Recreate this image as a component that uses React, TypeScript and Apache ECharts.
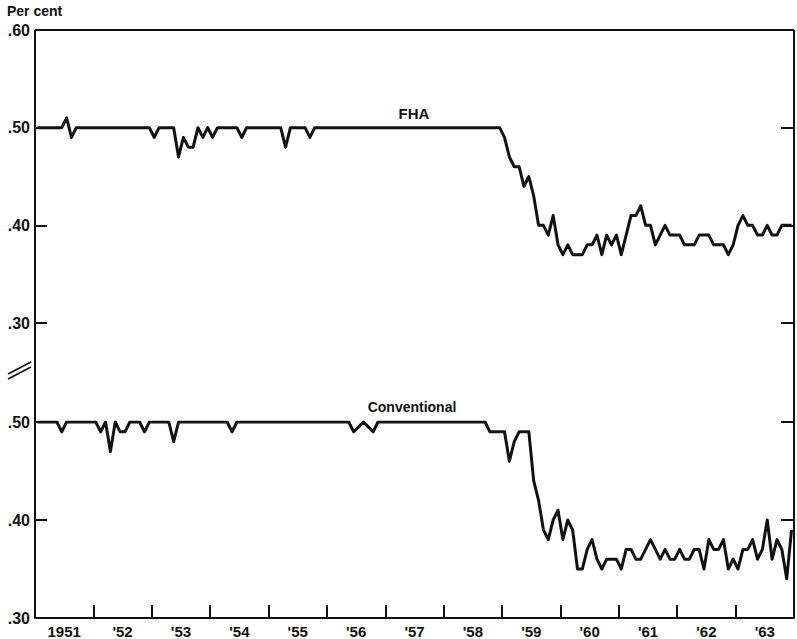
import React, { useEffect, useRef } from "react";
import * as echarts from "echarts";

// Tick labels
const yearLabels = ["1951", "'52", "'53", "'54", "'55", "'56", "'57", "'58", "'59", "'60", "'61", "'62", "'63"];

// Monthly values, Jan 1951 - Dec 1963 (12 per row = one year)
const fha = [
  0.50, 0.50, 0.50, 0.50, 0.50, 0.50, 0.51, 0.49, 0.50, 0.50, 0.50, 0.50,
  0.50, 0.50, 0.50, 0.50, 0.50, 0.50, 0.50, 0.50, 0.50, 0.50, 0.50, 0.50,
  0.49, 0.50, 0.50, 0.50, 0.50, 0.47, 0.49, 0.48, 0.48, 0.50, 0.49, 0.50,
  0.49, 0.50, 0.50, 0.50, 0.50, 0.50, 0.49, 0.50, 0.50, 0.50, 0.50, 0.50,
  0.50, 0.50, 0.50, 0.48, 0.50, 0.50, 0.50, 0.50, 0.49, 0.50, 0.50, 0.50,
  0.50, 0.50, 0.50, 0.50, 0.50, 0.50, 0.50, 0.50, 0.50, 0.50, 0.50, 0.50,
  0.50, 0.50, 0.50, 0.50, 0.50, 0.50, 0.50, 0.50, 0.50, 0.50, 0.50, 0.50,
  0.50, 0.50, 0.50, 0.50, 0.50, 0.50, 0.50, 0.50, 0.50, 0.50, 0.50, 0.50,
  0.49, 0.47, 0.46, 0.46, 0.44, 0.45, 0.43, 0.40, 0.40, 0.39, 0.41, 0.38,
  0.37, 0.38, 0.37, 0.37, 0.37, 0.38, 0.38, 0.39, 0.37, 0.39, 0.38, 0.39,
  0.37, 0.39, 0.41, 0.41, 0.42, 0.40, 0.40, 0.38, 0.39, 0.40, 0.39, 0.39,
  0.39, 0.38, 0.38, 0.38, 0.39, 0.39, 0.39, 0.38, 0.38, 0.38, 0.37, 0.38,
  0.40, 0.41, 0.40, 0.40, 0.39, 0.39, 0.40, 0.39, 0.39, 0.40, 0.40, 0.40,
];

const conventional = [
  0.50, 0.50, 0.50, 0.50, 0.50, 0.49, 0.50, 0.50, 0.50, 0.50, 0.50, 0.50,
  0.50, 0.49, 0.50, 0.47, 0.50, 0.49, 0.49, 0.50, 0.50, 0.50, 0.49, 0.50,
  0.50, 0.50, 0.50, 0.50, 0.48, 0.50, 0.50, 0.50, 0.50, 0.50, 0.50, 0.50,
  0.50, 0.50, 0.50, 0.50, 0.49, 0.50, 0.50, 0.50, 0.50, 0.50, 0.50, 0.50,
  0.50, 0.50, 0.50, 0.50, 0.50, 0.50, 0.50, 0.50, 0.50, 0.50, 0.50, 0.50,
  0.50, 0.50, 0.50, 0.50, 0.50, 0.49, 0.495, 0.50, 0.495, 0.49, 0.50, 0.50,
  0.50, 0.50, 0.50, 0.50, 0.50, 0.50, 0.50, 0.50, 0.50, 0.50, 0.50, 0.50,
  0.50, 0.50, 0.50, 0.50, 0.50, 0.50, 0.50, 0.50, 0.50, 0.49, 0.49, 0.49,
  0.49, 0.46, 0.48, 0.49, 0.49, 0.49, 0.44, 0.42, 0.39, 0.38, 0.40, 0.41,
  0.38, 0.40, 0.39, 0.35, 0.35, 0.37, 0.38, 0.36, 0.35, 0.36, 0.36, 0.36,
  0.35, 0.37, 0.37, 0.36, 0.36, 0.37, 0.38, 0.37, 0.36, 0.37, 0.36, 0.36,
  0.37, 0.36, 0.36, 0.37, 0.37, 0.35, 0.38, 0.37, 0.37, 0.38, 0.35, 0.36,
  0.35, 0.37, 0.37, 0.38, 0.36, 0.37, 0.40, 0.36, 0.38, 0.37, 0.34, 0.39,
];

const FONT = "Liberation Sans, Arial, sans-serif";
const INK = "#111";

// layout
const L = 35;
const R = 794;
const TOP = 30;
const TOP_BOTTOM = 323;
const BOT_TOP = 422;
const BOT = 618;

const fmt = (v: number) => v.toFixed(2).replace(/^0/, "");

export default function App() {
  const ref = useRef<HTMLDivElement>(null);
  useEffect(() => {
    const chart = echarts.init(ref.current!, null, { renderer: "svg" });
    const months = fha.length;
    const toPts = (arr: number[]) => arr.map((v, i) => [i + 0.5, v]);
    const yLeft = (grid: number, min: number, max: number) => ({
      type: "value",
      gridIndex: grid,
      min,
      max,
      interval: 0.1,
      position: "left",
      axisLine: { show: false },
      axisTick: { show: true, inside: true, length: 12, lineStyle: { color: INK, width: 2 } },
      axisLabel: {
        show: true,
        formatter: fmt,
        color: INK,
        fontFamily: FONT,
        fontWeight: "bold",
        fontSize: 16,
        margin: 5,
      },
      splitLine: { show: false },
    });
    const yRight = (grid: number, min: number, max: number) => ({
      type: "value",
      gridIndex: grid,
      min,
      max,
      interval: 0.1,
      position: "right",
      axisLine: { show: false },
      axisTick: { show: true, inside: true, length: 13, lineStyle: { color: INK, width: 2 } },
      axisLabel: { show: false },
      splitLine: { show: false },
    });

    const option: any = {
      animation: false,
      backgroundColor: "#fff",
      grid: [
        { left: L, top: TOP, width: R - L, height: TOP_BOTTOM - TOP },
        { left: L, top: BOT_TOP, width: R - L, height: BOT - BOT_TOP },
      ],
      xAxis: [
        { type: "value", gridIndex: 0, min: 0, max: months, show: false },
        {
          type: "value",
          gridIndex: 1,
          min: 0,
          max: months,
          interval: 12,
          position: "bottom",
          axisLine: { show: true, onZero: false, lineStyle: { color: INK, width: 2 } },
          axisTick: { show: true, inside: true, length: 13, lineStyle: { color: INK, width: 2 } },
          axisLabel: { show: false },
          splitLine: { show: false },
        },
        {
          type: "category",
          gridIndex: 1,
          data: yearLabels,
          boundaryGap: true,
          position: "bottom",
          axisLine: { show: false },
          axisTick: { show: false },
          axisLabel: {
            color: INK,
            fontFamily: FONT,
            fontWeight: "bold",
            fontSize: 15,
            margin: 6,
          },
          splitLine: { show: false },
        },
      ],
      yAxis: [yLeft(0, 0.3, 0.6), yRight(0, 0.3, 0.6), yLeft(1, 0.3, 0.5), yRight(1, 0.3, 0.5)],
      series: [
        {
          name: "FHA",
          type: "line",
          xAxisIndex: 0,
          yAxisIndex: 0,
          data: toPts(fha),
          showSymbol: false,
          symbol: "none",
          lineStyle: { color: INK, width: 3, join: "round" },
          silent: true,
        },
        {
          name: "Conventional",
          type: "line",
          xAxisIndex: 1,
          yAxisIndex: 2,
          data: toPts(conventional),
          showSymbol: false,
          symbol: "none",
          lineStyle: { color: INK, width: 3, join: "round" },
          silent: true,
        },
      ],
      graphic: [
        { type: "line", shape: { x1: L, y1: TOP, x2: L, y2: BOT }, style: { stroke: INK, lineWidth: 2 } },
        { type: "line", shape: { x1: R, y1: TOP, x2: R, y2: BOT }, style: { stroke: INK, lineWidth: 2 } },
        { type: "line", shape: { x1: L, y1: TOP, x2: R, y2: TOP }, style: { stroke: INK, lineWidth: 2 } },
        { type: "line", shape: { x1: 8, y1: 374, x2: 31, y2: 362 }, style: { stroke: INK, lineWidth: 1.5 } },
        { type: "line", shape: { x1: 8, y1: 379, x2: 31, y2: 367 }, style: { stroke: INK, lineWidth: 1.5 } },
        {
          type: "text",
          left: 7,
          top: 4,
          style: { text: "Per cent", fill: INK, font: `bold 14px ${FONT}` },
        },
        {
          type: "text",
          x: 414,
          y: 113,
          style: { text: "FHA", fill: INK, font: `bold 15px ${FONT}`, align: "center", verticalAlign: "middle" },
        },
        {
          type: "text",
          x: 412,
          y: 407,
          style: { text: "Conventional", fill: INK, font: `bold 14px ${FONT}`, align: "center", verticalAlign: "middle" },
        },
      ],
    };
    chart.setOption(option);
    return () => chart.dispose();
  }, []);
  return <div ref={ref} style={{ position: "fixed", left: 0, top: 0, width: 797, height: 639 }} />;
}
